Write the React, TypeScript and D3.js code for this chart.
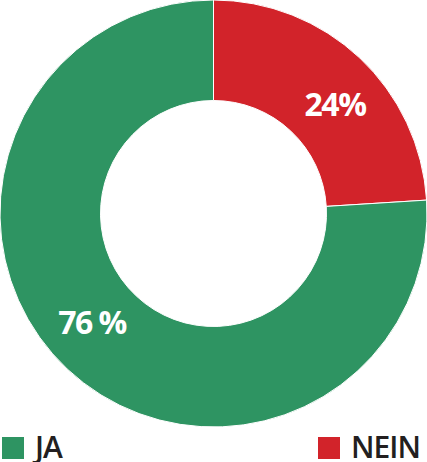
import { useRef, useEffect } from "react";
import * as d3 from "d3";

const categories = ["NEIN", "JA"];
const values = [24, 76];
const labels = ["24%", "76 %"];
const colors = ["#d2232a", "#2e9462"];
const legendOrder = ["JA", "NEIN"];

const WIDTH = 427;
const HEIGHT = 462;
const OUTER = 213.5;
const INNER = 113;
const LABEL_R = 163;
const LABEL_SHIFT = (5 * Math.PI) / 180;
const FONT = "'Open Sans', 'Noto Sans', sans-serif";

export default function App() {
  const svgRef = useRef<SVGSVGElement>(null);

  useEffect(() => {
    if (!svgRef.current) return;
    document.body.style.margin = "0";
    const svg = d3.select(svgRef.current);
    svg.selectAll("*").remove();

    const g = svg.append("g").attr("transform", `translate(${OUTER},${OUTER})`);

    const data = categories.map((c, i) => ({ cat: c, value: values[i], label: labels[i], color: colors[i] }));

    const pie = d3.pie<(typeof data)[0]>().value((d) => d.value).sort(null);
    const arc = d3.arc<d3.PieArcDatum<(typeof data)[0]>>().innerRadius(INNER).outerRadius(OUTER);
    const labelArc = d3.arc().innerRadius(LABEL_R).outerRadius(LABEL_R);

    const arcs = pie(data);

    g.selectAll("path.slice")
      .data(arcs)
      .join("path")
      .attr("class", "slice")
      .attr("d", arc)
      .attr("fill", (d) => d.data.color)
      .attr("stroke", "#ffffff")
      .attr("stroke-width", 1);

    g.selectAll("text.lbl")
      .data(arcs)
      .join("text")
      .attr("class", "lbl")
      .attr("transform", (d) => {
        const [x, y] = labelArc.centroid({
          innerRadius: LABEL_R,
          outerRadius: LABEL_R,
          startAngle: d.startAngle + LABEL_SHIFT,
          endAngle: d.endAngle + LABEL_SHIFT,
        } as any);
        return `translate(${x},${y})`;
      })
      .attr("text-anchor", "middle")
      .attr("dy", "0.36em")
      .attr("fill", "#ffffff")
      .attr("font-family", FONT)
      .attr("font-weight", 700)
      .attr("font-size", "32px")
      .attr("letter-spacing", "-1.5px")
      .text((d) => d.data.label);

    // Legend
    const legendX = [2, 318];
    legendOrder.forEach((name, i) => {
      const color = colors[categories.indexOf(name)];
      const lg = svg.append("g").attr("transform", `translate(${legendX[i]},437)`);
      lg.append("rect").attr("width", 22).attr("height", 22).attr("fill", color);
      lg.append("text")
        .attr("x", 33)
        .attr("y", 21)
        .attr("fill", "#231f20")
        .attr("font-family", FONT)
        .attr("font-weight", 600)
        .attr("font-size", "30px")
        .attr("letter-spacing", "-1px")
        .text(name);
    });
  }, []);

  return <svg ref={svgRef} width={WIDTH} height={HEIGHT} viewBox={`0 0 ${WIDTH} ${HEIGHT}`} style={{ display: "block" }} />;
}
